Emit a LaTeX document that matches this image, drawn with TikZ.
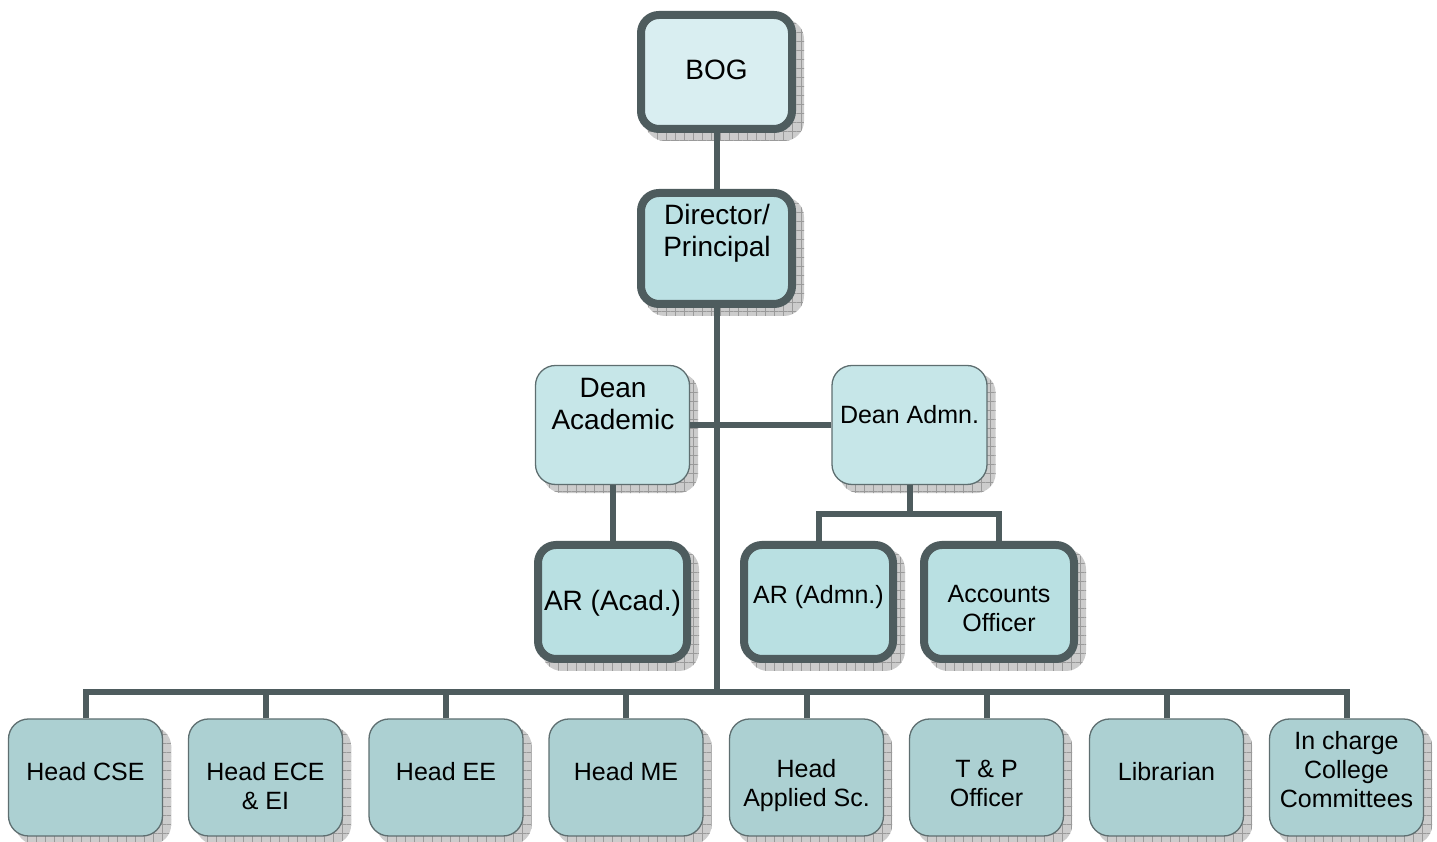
\documentclass[tikz,border=0pt]{standalone}
\usepackage{fontspec}
\setmainfont{Liberation Sans}
\usetikzlibrary{patterns.meta}
\definecolor{edge}{HTML}{4E5C5E}
\definecolor{thinedge}{HTML}{5E6E70}
\definecolor{fbog}{HTML}{D9EEF1}
\definecolor{fdir}{HTML}{BCE1E4}
\definecolor{fdean}{HTML}{C6E6E8}
\definecolor{far}{HTML}{B9E0E2}
\definecolor{fhead}{HTML}{ACD0D2}
\definecolor{shadowfill}{HTML}{CCCCCC}
\definecolor{shadowgrid}{HTML}{9A9A9A}
\pgfdeclarelayer{bg}
\pgfsetlayers{bg,main}
\begin{document}
\begin{tikzpicture}[x=1pt,y=1pt,
  thickbox/.style={draw=edge, line width=8pt, rounded corners=18pt, minimum width=151pt, minimum height=114pt, inner sep=0pt},
  thinbox/.style={draw=thinedge, line width=1.3pt, rounded corners=20pt, minimum width=154pt, minimum height=117pt, inner sep=0pt},
  lbl/.style={align=center, inner sep=0pt, font=\fontsize{25}{29}\selectfont},
  biglbl/.style={align=center, inner sep=0pt, font=\fontsize{28}{32}\selectfont},
  conn/.style={draw=edge, line width=6pt, line join=miter},
  shadowbox/.style={fill=shadowfill, rounded corners=20pt, postaction={pattern={Hatch[distance=9pt,line width=0.6pt]}, pattern color=shadowgrid}}
]
\useasboundingbox (0,0) rectangle (1437,842);

% boxes
\node[thickbox, fill=fbog] (bog) at (716.5,770) {};
\node[thickbox, fill=fdir, minimum height=111pt] (dir) at (716.5,593.5) {};
\node[thinbox, fill=fdean, minimum height=119pt] (deanac) at (612.5,417) {};
\node[thinbox, fill=fdean, minimum height=119pt, minimum width=155pt] (deanad) at (909.5,417) {};
\node[thickbox, fill=far, minimum width=149pt] (aracad) at (612.5,240) {};
\node[thickbox, fill=far, minimum width=149pt] (aradm) at (818.5,240) {};
\node[thickbox, fill=far, minimum width=150pt] (acc) at (999,240) {};
\node[thinbox, fill=fhead] (h1) at (85.5,64.5) {};
\node[thinbox, fill=fhead] (h2) at (265.5,64.5) {};
\node[thinbox, fill=fhead] (h3) at (446,64.5) {};
\node[thinbox, fill=fhead] (h4) at (626,64.5) {};
\node[thinbox, fill=fhead] (h5) at (806.5,64.5) {};
\node[thinbox, fill=fhead] (h6) at (986.5,64.5) {};
\node[thinbox, fill=fhead] (h7) at (1166.5,64.5) {};
\node[thinbox, fill=fhead] (h8) at (1346.5,64.5) {};

% texts
\node[biglbl] (tbog) at (716.5,772) {BOG};
\node[biglbl] (tdir) at (717,609) {Director/\\Principal};
\node[biglbl] (tdeanac) at (613,438) {Dean\\Academic};
\node[lbl] (tdeanad) at (909.5,427) {Dean Admn.};
\node[biglbl] (taracad) at (612.5,239) {AR (Acad.)};
\node[lbl] (taradm) at (818.5,245) {AR (Admn.)};
\node[lbl] (tacc) at (999,233.5) {Accounts\\Officer};
\node[lbl] (th1) at (85.5,70) {Head CSE};
\node[lbl] (th2) at (265.5,55.5) {Head ECE\\\& EI};
\node[lbl] (th3) at (446,70) {Head EE};
\node[lbl] (th4) at (626,70) {Head ME};
\node[lbl] (th5) at (806.5,56) {Head\\Applied Sc.};
\node[lbl] (th6) at (986.5,58.5) {T \& P\\Officer};
\node[lbl] (th7) at (1166.5,70) {Librarian};
\node[lbl] (th8) at (1346.5,72) {In charge\\College\\Committees};

% connectors
\coordinate (bus) at (716.5,150);
\coordinate (admsplit) at (909.5,328);
\draw[conn] (bog.south) -- (dir.north);
\draw[conn] (dir.south) -- (bus);
\draw[conn] (deanac.east) -- (deanad.west);
\draw[conn] (deanac.south) -- (aracad.north);
\draw[conn] (deanad.south) -- (admsplit);
\draw[conn] (aradm.north) |- (admsplit) -| (acc.north);
\draw[conn] (h1.north) |- (bus) -| (h8.north);
\foreach \n in {h2,h3,h4,h5,h6,h7}
  \draw[conn] (\n.north) -- (\n.north |- bus);

% shadows
\begin{pgfonlayer}{bg}
\foreach \n in {bog,dir,deanac,deanad,aracad,aradm,acc,h1,h2,h3,h4,h5,h6,h7,h8}
  \fill[shadowbox] ([shift={(8,-8)}]\n.south west) rectangle ([shift={(8,-8)}]\n.north east);
\end{pgfonlayer}
\end{tikzpicture}
\end{document}
